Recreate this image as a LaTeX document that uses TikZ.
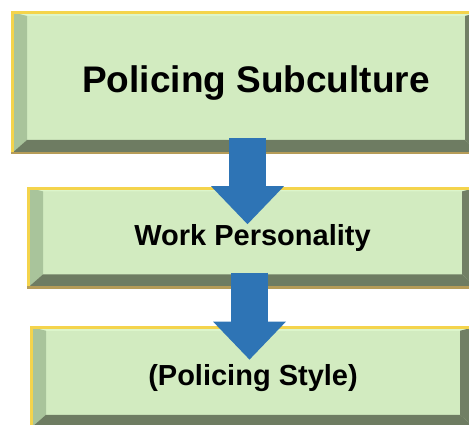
\documentclass[tikz,border=0pt]{standalone}
\usepackage{fontspec}
\setmainfont{Liberation Sans}
\usetikzlibrary{positioning,arrows.meta}

\definecolor{facegreen}{HTML}{D2EBC0}
\definecolor{topbevel}{HTML}{DCF5CB}
\definecolor{leftbevel}{HTML}{A9C49B}
\definecolor{bottombevel}{HTML}{6E7C62}
\definecolor{rightbevel}{HTML}{717F65}
\definecolor{edgeyellow}{HTML}{F4D44C}
\definecolor{edgetan}{HTML}{B69C58}
\definecolor{flowblue}{HTML}{2E74B5}

\begin{document}
\begin{tikzpicture}[x=1pt, y=1pt,
bevelbox/.style={rectangle, fill=facegreen, inner sep=0pt, font=\bfseries,
  path picture={
    \coordinate (nw) at (path picture bounding box.north west);
    \coordinate (ne) at (path picture bounding box.north east);
    \coordinate (sw) at (path picture bounding box.south west);
    \coordinate (se) at (path picture bounding box.south east);
    \fill[topbevel] (nw) -- (ne) -- ([xshift=-16pt,yshift=-4pt]ne) -- ([xshift=16pt,yshift=-4pt]nw) -- cycle;
    \fill[leftbevel] (nw) -- ([xshift=16pt,yshift=-4pt]nw) -- ([xshift=16pt,yshift=14pt]sw) -- (sw) -- cycle;
    \fill[bottombevel] (sw) -- ([xshift=16pt,yshift=14pt]sw) -- ([xshift=-16pt,yshift=14pt]se) -- (se) -- cycle;
    \fill[rightbevel] (se) -- ([xshift=-16pt,yshift=14pt]se) -- ([xshift=-16pt,yshift=-4pt]ne) -- (ne) -- cycle;
    \draw[edgeyellow, line width=5pt] (sw) -- (nw) -- (ne);
    \draw[edgetan, line width=4pt] (sw) -- (se);
  }},
flowarrow/.style={draw=flowblue, line width=37pt,
  -{Triangle[width=73pt, length=38pt, line width=0pt]}}
]
\useasboundingbox (0,0) rectangle (469,425);
%Boxes
\node[bevelbox, minimum width=470pt, minimum height=142pt, font=\bfseries\fontsize{37}{40}\selectfont]
      (sub)  at (246,342)                 {\hspace*{20pt}Policing Subculture};
\node[bevelbox, minimum width=451pt, minimum height=101pt, font=\bfseries\fontsize{29}{32}\selectfont]
      (work) [below=33pt of sub, xshift=6.5pt]   {Work Personality};
\node[bevelbox, minimum width=446pt, minimum height=102pt, font=\bfseries\fontsize{29}{32}\selectfont]
      (style) [below=38pt of work, xshift=0.5pt] {(Policing Style)};
%Arrows
\draw[flowarrow] ([xshift=1.5pt,yshift=16pt]sub.south) -- ([xshift=-5pt,yshift=-37pt]work.north);
\draw[flowarrow] ([xshift=-3pt,yshift=16pt]work.south) -- ([xshift=-3.5pt,yshift=-33pt]style.north);
\end{tikzpicture}
\end{document}
